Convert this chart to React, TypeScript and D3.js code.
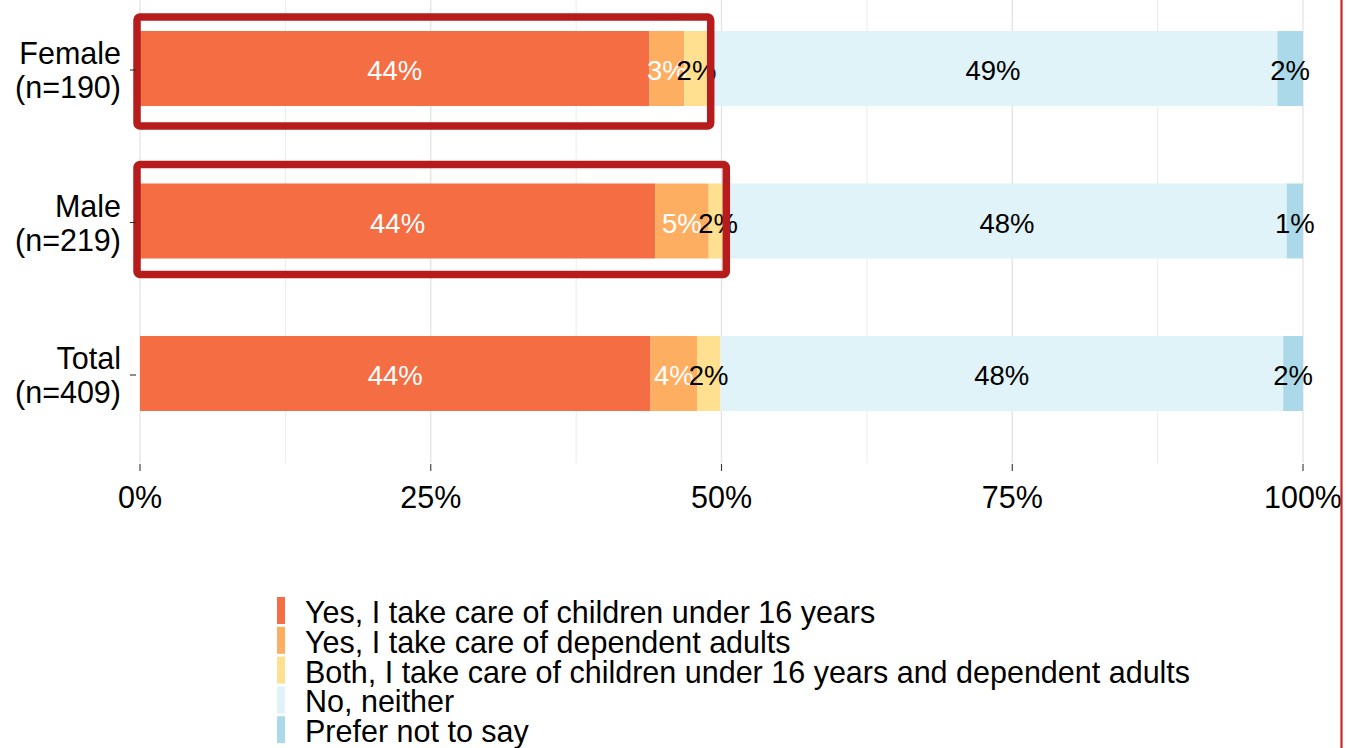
import React from "react";
import * as d3 from "d3";

const groups = ["Female", "Male", "Total"];
const groupN = [190, 219, 409];
const responses = [
  "Yes, I take care of children under 16 years",
  "Yes, I take care of dependent adults",
  "Both, I take care of children under 16 years and dependent adults",
  "No, neither",
  "Prefer not to say",
];
const colors = ["#F46D43", "#FDAE61", "#FEE090", "#E0F3F8", "#ABD9E9"];
const labelColors = ["#ffffff", "#ffffff", "#000000", "#000000", "#000000"];
const female = [43.8, 3.0, 2.1, 48.9, 2.2];
const male = [44.3, 4.6, 1.6, 48.1, 1.4];
const total = [43.9, 4.0, 2.0, 48.4, 1.7];
const seriesValues = [female, male, total];
const xTicks = [0, 25, 50, 75, 100];
const xMinor = [12.5, 37.5, 62.5, 87.5];
const highlighted = ["Female", "Male"];

const W = 1346;
const H = 748;
const FONT = "'Liberation Sans', Arial, sans-serif";
const AXIS_FS = 30.5;
const LABEL_FS = 27.5;

export default function App() {
  const x = d3.scaleLinear().domain([0, 100]).range([140, 1303]);
  const yc = d3.scalePoint().domain(groups).range([68.5, 373.5]);
  const bw = 75;
  const stacks = seriesValues.map((vals) => {
    let acc = 0;
    return vals.map((v) => {
      const s = { x0: acc, x1: acc + v, v };
      acc += v;
      return s;
    });
  });
  const panelBottom = 463;
  // hand-drawn highlight boxes: padding above / below bar, right padding
  const boxPad: Record<string, [number, number, number]> = {
    Female: [14, 20, 2],
    Male: [19, 16, -1],
  };
  return (
    <div style={{ position: "absolute", left: 0, top: 0 }}>
      <svg width={W} height={H} style={{ display: "block", fontFamily: FONT }}>
        <rect x={0} y={0} width={W} height={H} fill="#ffffff" />
        {xMinor.map((t) => (
          <line key={"mn" + t} x1={x(t)} x2={x(t)} y1={0} y2={panelBottom} stroke="#ebebeb" strokeWidth={1} />
        ))}
        {xTicks.map((t) => (
          <line key={"mj" + t} x1={x(t)} x2={x(t)} y1={0} y2={panelBottom} stroke="#e3e3e3" strokeWidth={1.3} />
        ))}
        {groups.map((g, gi) => (
          <g key={g}>
            {stacks[gi].map((s, i) => (
              <rect
                key={i}
                x={x(s.x0)}
                y={(yc(g) as number) - bw / 2}
                width={x(s.x1) - x(s.x0)}
                height={bw}
                fill={colors[i]}
              />
            ))}
          </g>
        ))}
        {groups.map((g, gi) => (
          <g key={"l" + g}>
            {stacks[gi].map((s, i) => (
              <text
                key={i}
                x={(x(s.x0) + x(s.x1)) / 2}
                y={yc(g) as number}
                dy="0.43em"
                textAnchor="middle"
                fontSize={LABEL_FS}
                fill={labelColors[i]}
              >
                {Math.round(s.v) + "%"}
              </text>
            ))}
          </g>
        ))}
        {highlighted.map((g) => {
          const gi = groups.indexOf(g);
          const end = stacks[gi][2].x1;
          const [pt, pb, pr] = boxPad[g];
          const top = (yc(g) as number) - bw / 2 - pt;
          const bottom = (yc(g) as number) + bw / 2 + pb;
          return (
            <rect
              key={"h" + g}
              x={137}
              y={top}
              width={x(end) + pr - 137}
              height={bottom - top}
              fill="none"
              stroke="#B71C1C"
              strokeWidth={7.5}
              rx={3}
            />
          );
        })}
        {groups.map((g, gi) => {
          const cy = yc(g) as number;
          return (
            <g key={"y" + g}>
              <line x1={130} x2={136} y1={cy + 1.5} y2={cy + 1.5} stroke="#333333" strokeWidth={1.1} />
              <text x={121} y={cy - 4.5} textAnchor="end" fontSize={AXIS_FS} fill="#000000">
                {g}
              </text>
              <text x={121} y={cy + 29.5} textAnchor="end" fontSize={AXIS_FS} fill="#000000">
                {"(n=" + groupN[gi] + ")"}
              </text>
            </g>
          );
        })}
        {xTicks.map((t) => (
          <g key={"xt" + t}>
            <line x1={x(t)} x2={x(t)} y1={panelBottom + 1} y2={panelBottom + 8} stroke="#333333" strokeWidth={1.1} />
            <text x={x(t)} y={508} textAnchor="middle" fontSize={AXIS_FS} fill="#000000">
              {t + "%"}
            </text>
          </g>
        ))}
        {responses.map((r, i) => (
          <g key={"lg" + i}>
            <rect x={277} y={597 + i * 29.8} width={8} height={27} fill={colors[i]} />
            <text x={305} y={612 + i * 29.8} dy="0.36em" fontSize={AXIS_FS} fill="#000000">
              {r}
            </text>
          </g>
        ))}
        <line x1={1341.5} x2={1341.5} y1={0} y2={H} stroke="#C62828" strokeWidth={2.2} />
      </svg>
    </div>
  );
}
